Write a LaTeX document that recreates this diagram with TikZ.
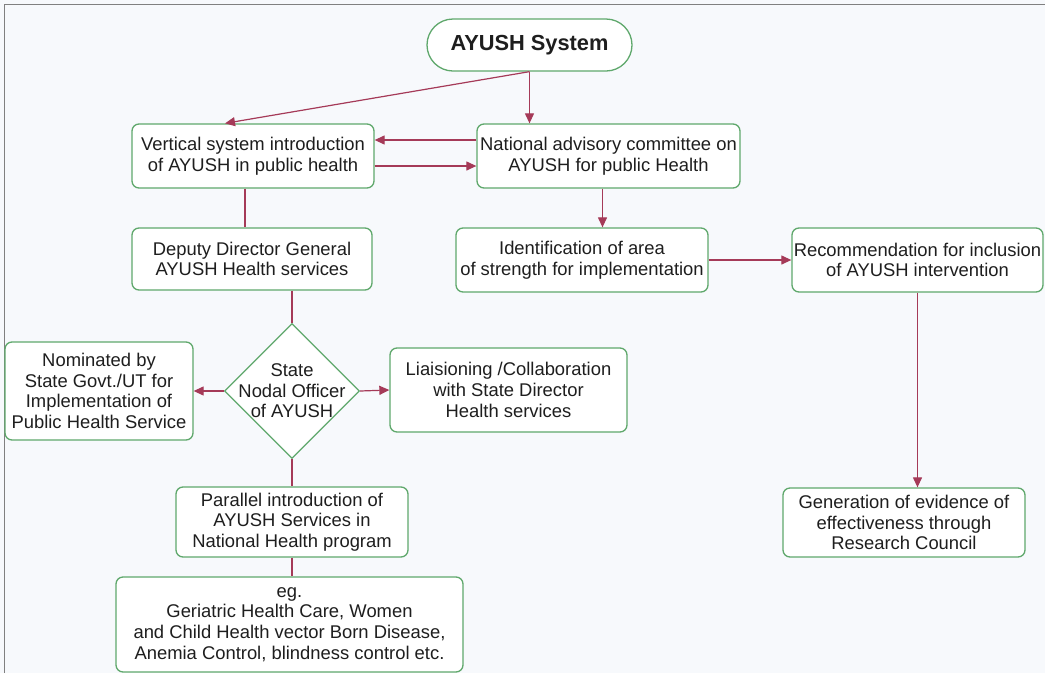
\documentclass[tikz,border=0pt]{standalone}
\usepackage{fontspec}
\setmainfont{Liberation Sans}
\usetikzlibrary{arrows.meta,shapes.geometric}
\definecolor{bg}{HTML}{F7F9FC}
\definecolor{boxgreen}{HTML}{5FA86C}
\definecolor{arr}{HTML}{A53A58}
\definecolor{txt}{HTML}{1E1E1E}
\definecolor{frame}{HTML}{808080}
\begin{document}
\begin{tikzpicture}[x=1pt,y=-1pt,
  box/.style={draw=boxgreen, fill=white, rounded corners=7pt, line width=1.3pt,
    align=center, inner sep=0pt, text=txt, font=\fontsize{18.4}{20.6}\selectfont},
  conn/.style={draw=arr, line width=1.2pt},
  arrowline/.style={conn, -{Triangle[length=10pt,width=9pt]}}]
\useasboundingbox (0,0) rectangle (1045,673);
\fill[bg] (0,0) rectangle (1045,673);
\draw[frame, line width=1pt] (4,673) -- (4,4) -- (1045,4);

\node[box, rounded corners=26pt, minimum width=205pt, minimum height=52pt,
  font=\fontsize{21.8}{24}\selectfont\bfseries] (ay) at (529.5,45) {AYUSH System};
\node[box, minimum width=242pt, minimum height=64pt] (vert) at (253,156)
  {Vertical system introduction\\of AYUSH in public health};
\node[box, minimum width=263pt, minimum height=64pt] (nat) at (608.5,156)
  {National advisory committee on\\AYUSH for public Health};
\node[box, minimum width=240pt, minimum height=62pt] (dep) at (252,259)
  {Deputy Director General\\AYUSH Health services};
\node[box, minimum width=252pt, minimum height=64pt] (ident) at (582,260)
  {Identification of area\\of strength for implementation};
\node[box, minimum width=251pt, minimum height=64pt] (rec) at (917.5,260)
  {Recommendation for inclusion\\of AYUSH intervention};
\node[box, rounded corners=0pt, shape=diamond, inner sep=-7pt, minimum width=135pt, minimum height=135pt] (dia) at (292,391)
  {State\\Nodal Officer\\of AYUSH};
\node[box, minimum width=188pt, minimum height=98pt] (nom) at (99,391)
  {Nominated by\\State Govt./UT for\\Implementation of\\Public Health Service};
\node[box, minimum width=237pt, minimum height=84pt] (lia) at (508.5,390)
  {Liaisioning /Collaboration\\with State Director\\Health services};
\node[box, minimum width=232pt, minimum height=70pt] (par) at (292,522)
  {Parallel introduction of\\AYUSH Services in\\National Health program};
\node[box, minimum width=347pt, minimum height=95pt] (eg) at (289.5,624.5)
  {eg.\\Geriatric Health Care, Women\\and Child Health vector Born Disease,\\Anemia Control, blindness control etc.};
\node[box, minimum width=242pt, minimum height=69pt] (gen) at (904,522.5)
  {Generation of evidence of\\effectiveness through\\Research Council};

\draw[arrowline] (ay.south) -- ([xshift=-28pt]vert.north);
\draw[arrowline] (ay.south) -- (ay.south |- nat.north);
\draw[arrowline] ([yshift=16pt]nat.west) -- ([yshift=16pt]vert.east);
\draw[arrowline] ([yshift=-10pt]vert.east) -- ([yshift=-10pt]nat.west);
\coordinate (c1) at ([xshift=-8pt]vert.south);
\draw[conn] (c1) -- (c1 |- dep.north);
\coordinate (c2) at ([xshift=-6pt]nat.south);
\draw[arrowline] (c2) -- (c2 |- ident.north);
\draw[arrowline] (ident.east) -- (rec.west);
\draw[arrowline] (rec.south) -- (rec.south |- gen.north);
\draw[conn] (dia.north |- dep.south) -- (dia.north);
\draw[arrowline] (dia.west) -- (nom.east);
\draw[arrowline] (dia.east) -- (lia.west);
\draw[conn] (dia.south) -- (dia.south |- par.north);
\draw[conn] (par.south) -- (par.south |- eg.north);
\end{tikzpicture}
\end{document}
